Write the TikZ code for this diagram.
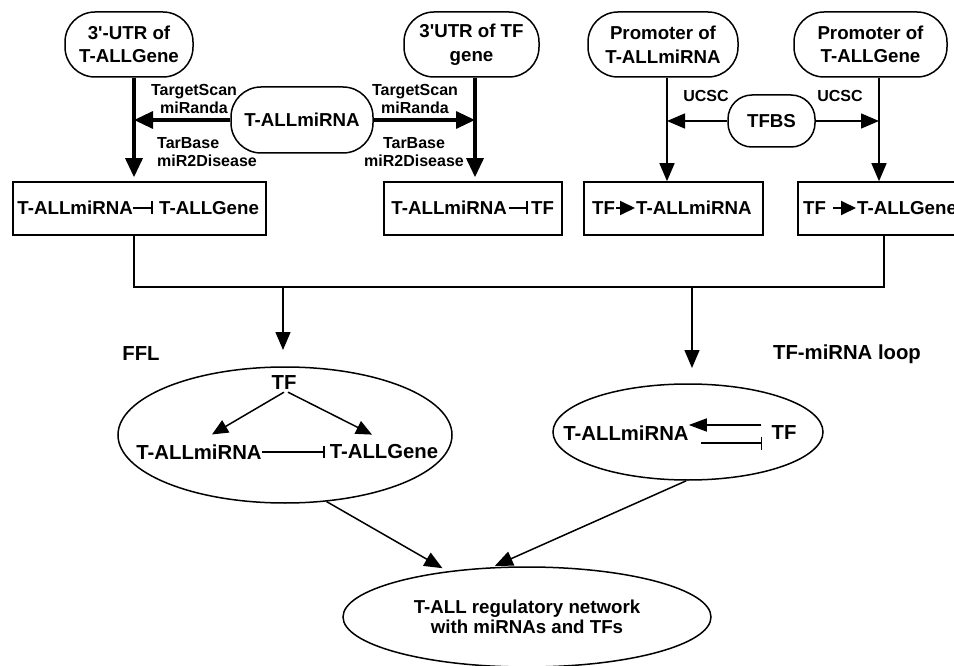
\documentclass[tikz,border=0pt]{standalone}
\usepackage{fontspec}
\setmainfont{Liberation Sans}
\usetikzlibrary{arrows.meta,shapes.geometric}
\begin{document}
\begin{tikzpicture}[x=1pt,y=-1pt,
  every node/.style={font=\bfseries\fontsize{18.7}{23.5}\selectfont},
  pill/.style={draw,line width=1.5pt,rounded corners=30pt,minimum height=65pt,align=center,inner sep=1pt},
  boxnode/.style={draw,line width=1.6pt,minimum height=53pt,inner sep=0pt},
  txt/.style={inner sep=0pt},
  ovaltxt/.style={inner sep=0pt,font=\bfseries\fontsize{20.3}{24}\selectfont},
  smalltxt/.style={font=\bfseries\fontsize{16}{18.5}\selectfont,align=center,inner sep=0pt},
  bigtxt/.style={font=\bfseries\fontsize{20.3}{24}\selectfont,inner sep=0pt},
  oval/.style={draw,ellipse,line width=1.5pt,inner sep=0pt},
  thickln/.style={line width=3.3pt},
  thinln/.style={line width=1.5pt},
  bigtri/.style={-{Triangle[length=19pt,width=17pt]}},
  tri/.style={-{Triangle[length=18pt,width=15pt]}},
  smalltri/.style={-{Triangle[length=16pt,width=14pt]}},
  inhln/.style={line width=2.2pt,-{Bar[width=13pt]}},
  actln/.style={line width=2pt,-{Triangle[length=15pt,width=14pt]}}
]
\useasboundingbox (0,0) rectangle (954,666);
\clip (0,0) rectangle (954,666);
\fill[white] (0,0) rectangle (954,666);

% column helpers
\coordinate (col1) at (134,0);
\coordinate (col2) at (475,0);
\coordinate (col3) at (667,0);
\coordinate (col4) at (879,0);
\coordinate (col5) at (884,0);
\coordinate (busy) at (0,287);
\coordinate (ffltip) at (283,350);
\coordinate (looptip) at (692,368);

% top pills
\node[pill,minimum width=128pt] (utr1) at (129,44.5) {3\textquotesingle-UTR of\\T-ALLGene};
\node[pill,minimum width=135pt] (utr2) at (471.5,44.5) {3\textquotesingle UTR of TF\\gene};
\node[pill,minimum width=150pt] (prom1) at (663,44.5) {Promoter of\\T-ALLmiRNA};
\node[pill,minimum width=153pt] (prom2) at (870.5,44.5) {Promoter of\\T-ALLGene};
\node[pill,minimum width=142pt,minimum height=66pt] (mir) at (302,120) {T-ALLmiRNA};
\node[pill,minimum width=87pt,minimum height=52pt,rounded corners=24pt] (tfbs) at (771.5,121) {TFBS};

% database labels
\node[smalltxt] (ts1) at (194,99) {TargetScan\\miRanda};
\node[smalltxt,align=left,anchor=west] (tb1) at (157,152) {TarBase\\miR2Disease};
\node[smalltxt] (ts2) at (415,99) {TargetScan\\miRanda};
\node[smalltxt] (tb2) at (414,152) {TarBase\\miR2Disease};
\node[smalltxt] (u1) at (706,96) {UCSC};
\node[smalltxt] (u2) at (840,96) {UCSC};

% boxes
\node[boxnode,minimum width=253pt] (box1) at (139.5,208.5) {};
\node[boxnode,minimum width=178pt] (box2) at (473,208.5) {};
\node[boxnode,minimum width=179pt] (box3) at (673.5,208.5) {};
\node[boxnode,minimum width=170pt] (box4) at (883,208.5) {};

\node[txt,anchor=east] (b1m) at (133,208) {T-ALLmiRNA};
\node[txt,anchor=west] (b1g) at (159,208) {T-ALLGene};
\draw[inhln] (b1m.east) -- ([xshift=-6pt]b1g.west);
\node[txt,anchor=east] (b2m) at (507,208) {T-ALLmiRNA};
\node[txt,anchor=west] (b2t) at (531,208) {TF};
\draw[inhln] ([xshift=2pt]b2m.east) -- ([xshift=-3pt]b2t.west);
\node[txt,anchor=west] (b3t) at (592,208) {TF};
\node[txt,anchor=west] (b3m) at (636,208) {T-ALLmiRNA};
\draw[actln] ([xshift=1pt]b3t.east) -- ([xshift=-1pt]b3m.west);
\node[txt,anchor=west] (b4t) at (803,208) {TF};
\node[txt,anchor=west] (b4g) at (857,208) {T-ALLGene};
\draw[actln] ([xshift=7pt]b4t.east) -- ([xshift=-1pt]b4g.west);

% top connectors
\draw[thickln,bigtri,shorten >=4pt] (utr1.south -| col1) -- (box1.north -| col1);
\draw[thickln,bigtri] (mir.west) -- (mir.west -| col1);
\draw[thickln,bigtri,shorten >=4pt] (utr2.south -| col2) -- (box2.north -| col2);
\draw[thickln,bigtri] (mir.east) -- (mir.east -| col2);
\draw[thinln,tri] (prom1.south -| col3) -- (box3.north -| col3);
\draw[thinln,tri] (tfbs.west) -- (tfbs.west -| col3);
\draw[thinln,tri] (prom2.south -| col4) -- (box4.north -| col4);
\draw[thinln,tri] (tfbs.east) -- (tfbs.east -| col4);

% bus
\draw[thinln] (box1.south -| col1) -- (col1 |- busy) -- (col5 |- busy) -- (box4.south -| col5);
\draw[thinln,tri] (busy -| ffltip) -- (ffltip);
\draw[thinln,tri] (busy -| looptip) -- (looptip);

% labels
\node[bigtxt] (fflL) at (141,354) {FFL};
\node[bigtxt] (loopL) at (847,354) {TF-miRNA loop};

% FFL
\node[oval,minimum width=334pt,minimum height=136pt] (ffl) at (285,435) {};
\node[ovaltxt] (tf1) at (284,383) {TF};
\node[ovaltxt] (m1) at (199,452) {T-ALLmiRNA};
\node[ovaltxt] (g1) at (384,452) {T-ALLGene};
\draw[thinln,smalltri] ([yshift=-2pt]tf1.south) -- ([xshift=13pt,yshift=10pt]m1.north);
\draw[thinln,smalltri] ([xshift=4pt,yshift=-2pt]tf1.south) -- ([xshift=-12pt,yshift=10pt]g1.north);
\draw[line width=1.7pt,-{Bar[width=12pt]}] (m1.east) -- ([xshift=-5pt]g1.west);

% loop
\node[oval,minimum width=270pt,minimum height=96pt] (loop) at (688,432) {};
\node[ovaltxt] (lm) at (626,433) {T-ALLmiRNA};
\node[ovaltxt] (ltf) at (784,433) {TF};
\draw[thinln,-{Triangle[length=18pt,width=13pt]}] ([xshift=-10pt,yshift=8pt]ltf.west) -- ([yshift=8pt]lm.east);
\draw[thinln,-{Bar[width=13pt]}] ([xshift=12pt,yshift=-10pt]lm.east) -- ([xshift=-9pt,yshift=-10pt]ltf.west);

% result
\node[oval,minimum width=368pt,minimum height=100pt,align=center,font=\bfseries\fontsize{18.7}{20}\selectfont] (net) at (527,617) {T-ALL regulatory network\\with miRNAs and TFs};
\draw[thinln,tri,shorten >=6pt] (ffl.-58) -- (net.150);
\draw[thinln,tri,shorten >=3pt] (loop.-92) -- (net.125);
\end{tikzpicture}
\end{document}
